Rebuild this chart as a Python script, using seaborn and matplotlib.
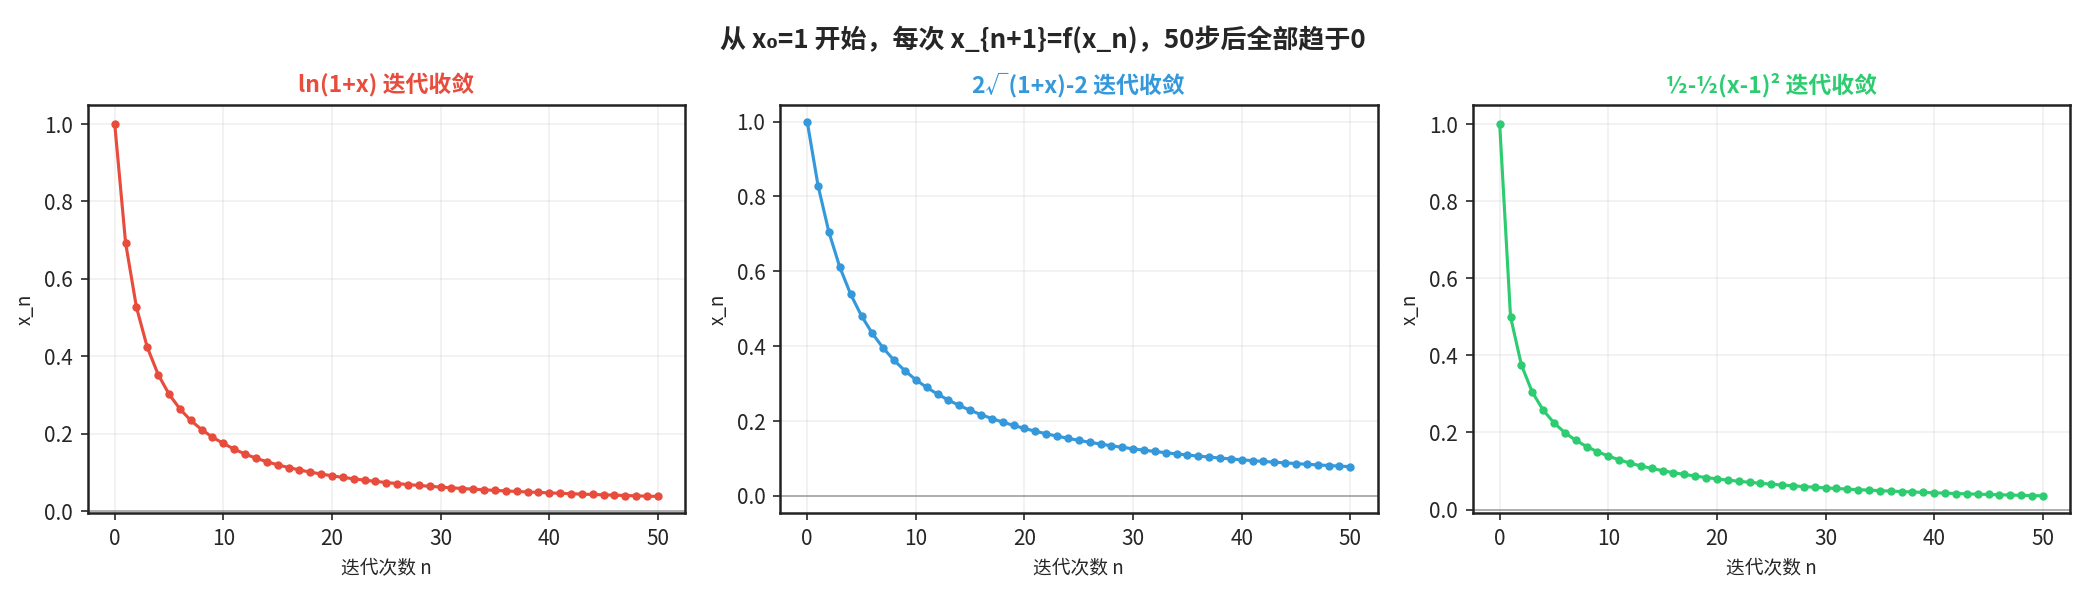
import numpy as np
import pandas as pd
import seaborn as sns
from matplotlib import pyplot as plt

# iterates x_n, n = 0..50
steps = list(range(51))

ln_vals = [1.0, 0.6931, 0.5266, 0.4230, 0.3528, 0.3022, 0.2641, 0.2344, 0.2106, 0.1911,
           0.1749, 0.1600, 0.1475, 0.1369, 0.1277, 0.1197, 0.1127, 0.1064, 0.1009, 0.0959,
           0.0913, 0.0872, 0.0835, 0.0800, 0.0769, 0.0739, 0.0712, 0.0687, 0.0664, 0.0642,
           0.0622, 0.0603, 0.0585, 0.0568, 0.0552, 0.0537, 0.0522, 0.0509, 0.0496, 0.0484,
           0.0472, 0.0461, 0.0451, 0.0440, 0.0431, 0.0422, 0.0413, 0.0404, 0.0396, 0.0388,
           0.0381]

sqrt_vals = [1.0, 0.8284, 0.7044, 0.6111, 0.5386, 0.4808, 0.4338, 0.3948, 0.3620, 0.3341,
             0.3101, 0.2898, 0.2718, 0.2558, 0.2415, 0.2287, 0.2171, 0.2065, 0.1970, 0.1882,
             0.1801, 0.1727, 0.1659, 0.1596, 0.1537, 0.1483, 0.1432, 0.1384, 0.1339, 0.1297,
             0.1258, 0.1221, 0.1186, 0.1153, 0.1121, 0.1092, 0.1063, 0.1037, 0.1011, 0.0987,
             0.0964, 0.0941, 0.0920, 0.0900, 0.0881, 0.0862, 0.0844, 0.0827, 0.0811, 0.0795,
             0.0780]

quad_vals = [1.0, 0.5, 0.375, 0.3047, 0.2583, 0.2249, 0.1996, 0.1797, 0.1636, 0.1502,
             0.1389, 0.1291, 0.1206, 0.1132, 0.1068, 0.1010, 0.0958, 0.0912, 0.0870, 0.0832,
             0.0797, 0.0765, 0.0736, 0.0708, 0.0683, 0.0660, 0.0638, 0.0617, 0.0598, 0.0580,
             0.0563, 0.0548, 0.0532, 0.0518, 0.0505, 0.0492, 0.0480, 0.0468, 0.0457, 0.0447,
             0.0437, 0.0427, 0.0418, 0.0409, 0.0401, 0.0393, 0.0385, 0.0378, 0.0371, 0.0364,
             0.0357]

titles = ['ln(1+x) 迭代收敛', '2√(1+x)-2 迭代收敛', '½-½(x-1)² 迭代收敛']
colors = ['#e74c3c', '#3498db', '#2ecc71']
ylims = [(-0.006, 1.05), (-0.047, 1.045), (-0.01, 1.05)]

sns.set_style('ticks')
plt.rcParams['font.family'] = ['Noto Sans CJK SC', 'DejaVu Sans']
plt.rcParams['axes.unicode_minus'] = False

fig, axes = plt.subplots(1, 3, figsize=(13.9, 3.967), dpi=150)
fig.subplots_adjust(left=0.042, right=0.9928, top=0.824, bottom=0.137, wspace=0.159)

for ax, vals, title, color, yl in zip(axes, [ln_vals, sqrt_vals, quad_vals], titles, colors, ylims):
    df = pd.DataFrame({'n': steps, 'x_n': vals})
    sns.lineplot(data=df, x='n', y='x_n', ax=ax, color=color, marker='o',
                 markersize=4, markeredgewidth=0, linewidth=1.5)
    ax.axhline(0, color='gray', linewidth=0.8, alpha=0.7)
    ax.set_title(title, color=color, fontsize=11, fontweight='bold')
    ax.set_xlabel('迭代次数 n', fontsize=9)
    ax.set_ylabel('x_n', fontsize=9)
    ax.set_ylim(*yl)
    ax.tick_params(labelsize=10)
    ax.grid(True, alpha=0.3)
    for s in ax.spines.values():
        s.set_color('#222222')
        s.set_linewidth(1.2)

fig.suptitle('从 x₀=1 开始，每次 x_{n+1}=f(x_n)，50步后全部趋于0', fontsize=12.5, fontweight='bold', y=0.957)

fig.savefig('out.png', dpi=150)
